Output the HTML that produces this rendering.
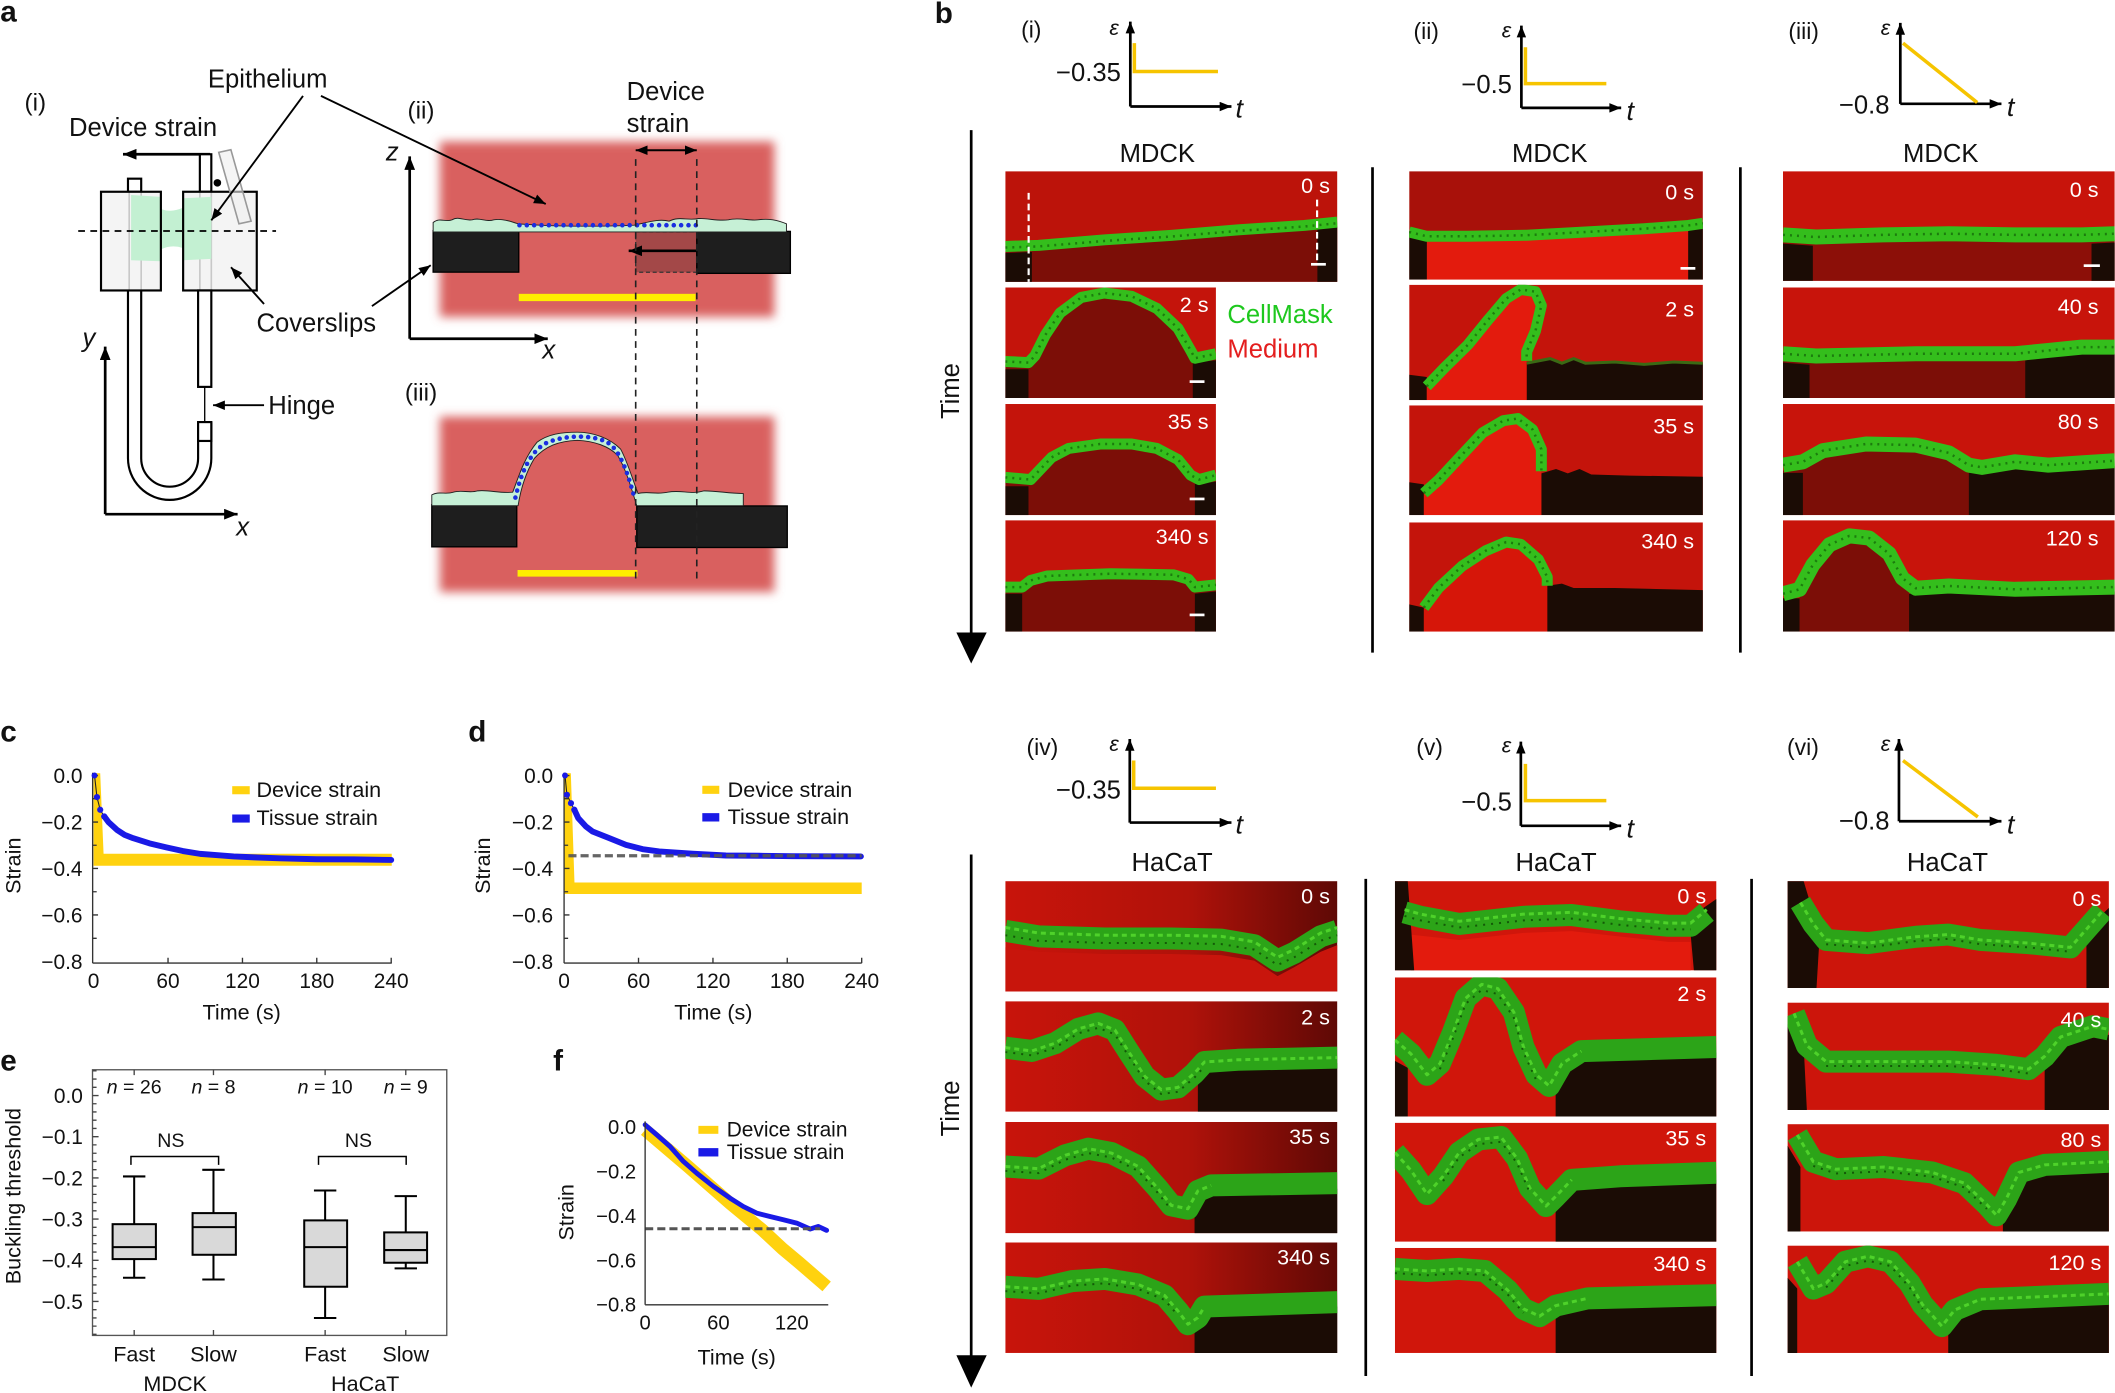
<!DOCTYPE html>
<html><head><meta charset="utf-8">
<style>
html,body{margin:0;padding:0;background:#fff;}
svg{display:block}
text{font-family:"Liberation Sans",Arial,sans-serif;fill:#111}
.t{fill:none;stroke:#34be1c;stroke-width:11;stroke-linejoin:round;vector-effect:non-scaling-stroke}
.t2{fill:none;stroke:#1c7c0e;stroke-width:2.5;stroke-dasharray:2 5;stroke-linejoin:round;vector-effect:non-scaling-stroke}
.h{fill:none;stroke:#2ca418;stroke-width:22;stroke-linejoin:round;vector-effect:non-scaling-stroke}
.h2{fill:none;stroke:#4ed22a;stroke-width:3;stroke-dasharray:5 4;stroke-linejoin:round;vector-effect:non-scaling-stroke}
.h3{fill:none;stroke:#145a08;stroke-width:2;stroke-dasharray:2 6;stroke-linejoin:round;vector-effect:non-scaling-stroke}
.ts{fill:#fff;font-size:16px;text-anchor:end}
.k{fill:#1b0c05}
.rd{fill:#7c0e07}
.rb{fill:#e31b0d}
.ax{stroke:#000;stroke-width:2;fill:none}
.yl{fill:none;stroke:#f6c400;stroke-width:2.6}
</style></head><body>
<svg width="2115" height="1393" viewBox="0 0 1568 1033" xmlns="http://www.w3.org/2000/svg">
<defs>
<marker id="ah" viewBox="0 0 10 8" refX="10" refY="4" markerWidth="10" markerHeight="8" markerUnits="userSpaceOnUse" orient="auto-start-reverse"><path d="M0,0 L10,4 L0,8 z" fill="#000"/></marker>
<marker id="ah2" viewBox="0 0 10 8" refX="10" refY="4" markerWidth="9" markerHeight="7" markerUnits="userSpaceOnUse" orient="auto-start-reverse"><path d="M0,0 L10,4 L0,8 z" fill="#000"/></marker>
<filter id="bl" x="-10%" y="-10%" width="120%" height="120%"><feGaussianBlur stdDeviation="3.5"/></filter>
<linearGradient id="dg" x1="0" y1="0" x2="1" y2="0"><stop offset="0" stop-color="#c8140b"/><stop offset="0.55" stop-color="#b0120a"/><stop offset="1" stop-color="#5e0905"/></linearGradient>
</defs>

<!-- ================= PANEL A ================= -->
<text x="0" y="16" font-size="22" font-weight="bold">a</text>
<text x="18" y="82" font-size="18">(i)</text>
<text x="154" y="65" font-size="19">Epithelium</text>
<text x="51" y="101" font-size="19">Device strain</text>
<line x1="155.6" y1="114.4" x2="91" y2="114.4" stroke="#000" stroke-width="2" marker-end="url(#ah)"/>
<rect x="94.7" y="132.5" width="9.8" height="9.7" fill="#fff" stroke="#000" stroke-width="1.6"/>
<rect x="148" y="114.4" width="8.5" height="27.8" fill="#fff" stroke="#000" stroke-width="1.6"/>
<rect x="74.7" y="142.2" width="44.4" height="73.2" fill="#f4f4f4"/>
<rect x="135.6" y="142.2" width="54.6" height="73.2" fill="#f4f4f4"/>
<g stroke="#c8c8c8" stroke-width="1.2"><line x1="95.6" y1="142" x2="95.6" y2="215"/><line x1="104.5" y1="142" x2="104.5" y2="215"/><line x1="148" y1="142" x2="148" y2="215"/><line x1="156.5" y1="142" x2="156.5" y2="215"/></g>
<path d="M97,144.6 L119,146 L119,155 Q127,158 135.6,154 L135.6,147 L156.5,146 L156.5,192 L135.6,193 L135.6,184 Q127,181 119,185 L119,193.7 L97,193 Z" fill="#c3f0d2"/>
<rect x="74.7" y="142.2" width="44.4" height="73.2" fill="none" stroke="#000" stroke-width="1.6"/>
<rect x="135.6" y="142.2" width="54.6" height="73.2" fill="none" stroke="#000" stroke-width="1.6"/>
<polygon points="162,113 171,111 186,164 177,166" fill="#eee" fill-opacity="0.6" stroke="#999" stroke-width="1.2"/>
<circle cx="161" cy="135.6" r="2.8" fill="#000"/>
<line x1="57.8" y1="171.3" x2="204.5" y2="171.3" stroke="#000" stroke-width="1.3" stroke-dasharray="5 4"/>
<g fill="none" stroke="#000" stroke-width="1.6">
<path d="M94.7,215.4 L94.7,339.8 A30.9 30.9 0 0 0 156.5,339.8 L156.5,313"/>
<path d="M104.5,215.4 L104.5,339.8 A21.1 21.1 0 0 0 146.7,339.8 L146.7,313"/>
<rect x="146.7" y="215.4" width="9.8" height="71.5" fill="#fff"/>
<rect x="146.7" y="313" width="9.8" height="14" fill="#fff"/>
<line x1="151.6" y1="286.9" x2="151.6" y2="313" stroke-width="1"/>
</g>
<line x1="195.6" y1="300.5" x2="157.8" y2="300.5" stroke="#000" stroke-width="1.4" marker-end="url(#ah2)"/>
<text x="198.7" y="307" font-size="19">Hinge</text>
<text x="190" y="246" font-size="19">Coverslips</text>
<line x1="77.8" y1="381.3" x2="77.8" y2="257" stroke="#000" stroke-width="2" marker-end="url(#ah)"/>
<line x1="77.8" y1="381.3" x2="176" y2="381.3" stroke="#000" stroke-width="2" marker-end="url(#ah)"/>
<text x="61" y="257" font-size="19" font-style="italic">y</text>
<text x="175" y="397" font-size="19" font-style="italic">x</text>

<!-- (ii) -->
<text x="302" y="88" font-size="18">(ii)</text>
<rect x="326" y="105" width="248" height="130" fill="#d9605f" filter="url(#bl)"/>
<line x1="303.6" y1="251.2" x2="303.6" y2="116" stroke="#000" stroke-width="2" marker-end="url(#ah)"/>
<line x1="303.6" y1="251.2" x2="406" y2="251.2" stroke="#000" stroke-width="2" marker-end="url(#ah)"/>
<text x="286" y="119" font-size="19" font-style="italic">z</text>
<text x="402" y="266" font-size="19" font-style="italic">x</text>
<rect x="471.2" y="171.9" width="45.3" height="30" fill="#a34848" stroke="#333" stroke-width="1" stroke-dasharray="3 2"/>
<rect x="321" y="171" width="63.5" height="30.8" fill="#1e1e1e" stroke="#000"/>
<rect x="516.5" y="171.6" width="69.4" height="31.1" fill="#1e1e1e" stroke="#000"/>
<path d="M321,172 L321,165 C326,161 330,165 335,163 C340,160 344,164 350,163 C356,161 360,165 366,163 C372,162 378,164 384,166 L400,167 C420,168 450,168 470,167 C480,165 488,162 496,164 C504,160 510,164 518,162 C526,162 532,164 540,163 C548,161 556,164 562,163 C570,162 576,163 583,166 L583,172 Z" fill="#c6f0d6" stroke="#222" stroke-width="0.7"/>
<line x1="385" y1="167" x2="517" y2="167" stroke="#1a2ee0" stroke-width="3.4" stroke-linecap="round" stroke-dasharray="0 5.45"/>
<line x1="516" y1="186" x2="466" y2="186" stroke="#000" stroke-width="2" marker-end="url(#ah)"/>
<rect x="384.5" y="217.9" width="131.1" height="5.4" fill="#ffee00"/>
<line x1="471.2" y1="111.4" x2="516.5" y2="111.4" stroke="#000" stroke-width="1.5" marker-start="url(#ah2)" marker-end="url(#ah2)"/>
<text x="464.5" y="74" font-size="19">Device</text>
<text x="464.5" y="98" font-size="19">strain</text>

<!-- (iii) -->
<text x="300" y="297" font-size="18">(iii)</text>
<rect x="326" y="309" width="248" height="130" fill="#d9605f" filter="url(#bl)"/>
<rect x="320" y="374.3" width="63" height="31.2" fill="#1e1e1e" stroke="#000"/>
<rect x="472" y="375.2" width="111.6" height="30.8" fill="#1e1e1e" stroke="#000"/>
<path d="M320,375 L320,367 C325,364 330,367 336,365 C342,363 348,366 354,364 C362,363 370,366 380,365 C384,355 388,340 398,328 C406,322 416,320.5 428,320.5 C440,320.5 452,325 460,333 C465,342 469,356 473,366 C480,364 486,367 495,365 C505,363 512,367 522,364 C532,364 540,366 551,366 L551,375 L472,375 C468,362 464,348 458,338 C452,331 440,327 428,326.5 C414,327 404,331 396,340 C390,350 386,362 384,375 Z" fill="#c6f0d6" stroke="#222" stroke-width="0.7"/>
<path d="M382,369 C386,352 392,336 404,329 C416,323 436,322 448,327 C458,331 464,346 470,368" fill="none" stroke="#1a2ee0" stroke-width="3.4" stroke-linecap="round" stroke-dasharray="0 5.3"/>
<rect x="383.6" y="422.7" width="88.9" height="4.9" fill="#ffee00"/>
<g stroke="#222" stroke-width="1.2" stroke-dasharray="5 4"><line x1="471.2" y1="118" x2="471.2" y2="430"/><line x1="516.5" y1="118" x2="516.5" y2="430"/></g>

<!-- arrows on top -->
<line x1="195.6" y1="225.4" x2="171.1" y2="198.2" stroke="#000" stroke-width="1.4" marker-end="url(#ah2)"/>
<line x1="275.6" y1="227" x2="319.2" y2="196.7" stroke="#000" stroke-width="1.4" marker-end="url(#ah2)"/>
<line x1="224.5" y1="71.1" x2="156.5" y2="163.4" stroke="#000" stroke-width="1.4" marker-end="url(#ah2)"/>
<line x1="237.8" y1="71.1" x2="404.5" y2="151.3" stroke="#000" stroke-width="1.4" marker-end="url(#ah2)"/>

<!-- ================= PANEL B ================= -->
<text x="693" y="17" font-size="22" font-weight="bold">b</text>

<text x="757" y="28" font-size="17">(i)</text>
<line class="ax" x1="838" y1="79" x2="838" y2="16" marker-end="url(#ah2)"/>
<line class="ax" x1="838" y1="79" x2="913" y2="79" marker-end="url(#ah2)"/>
<polyline class="yl" points="841,32 841,53 903,53"/>
<text x="831" y="60" font-size="19" text-anchor="end">−0.35</text>
<text x="826" y="26" font-size="16" font-family="Liberation Serif" font-style="italic" text-anchor="middle">ε</text>
<text x="916" y="87" font-size="20" font-family="Liberation Serif" font-style="italic">t</text>

<text x="1048" y="29" font-size="17">(ii)</text>
<line class="ax" x1="1128" y1="80" x2="1128" y2="19" marker-end="url(#ah2)"/>
<line class="ax" x1="1128" y1="80" x2="1202" y2="80" marker-end="url(#ah2)"/>
<polyline class="yl" points="1131,35 1131,62 1191,62"/>
<text x="1121" y="69" font-size="19" text-anchor="end">−0.5</text>
<text x="1117" y="28" font-size="16" font-family="Liberation Serif" font-style="italic" text-anchor="middle">ε</text>
<text x="1206" y="89" font-size="20" font-family="Liberation Serif" font-style="italic">t</text>

<text x="1326" y="29" font-size="17">(iii)</text>
<line class="ax" x1="1409" y1="77" x2="1409" y2="17" marker-end="url(#ah2)"/>
<line class="ax" x1="1409" y1="77" x2="1484" y2="77" marker-end="url(#ah2)"/>
<line class="yl" x1="1411" y1="32" x2="1466" y2="76"/>
<text x="1401" y="84" font-size="19" text-anchor="end">−0.8</text>
<text x="1398" y="26" font-size="16" font-family="Liberation Serif" font-style="italic" text-anchor="middle">ε</text>
<text x="1488" y="86" font-size="20" font-family="Liberation Serif" font-style="italic">t</text>

<line x1="720" y1="96.5" x2="720" y2="472" stroke="#000" stroke-width="2"/>
<polygon points="709,469 731.5,469 720,492" fill="#000"/>
<text transform="translate(711,290) rotate(-90)" font-size="19" text-anchor="middle">Time</text>
<line x1="1017.6" y1="124" x2="1017.6" y2="484" stroke="#000" stroke-width="2"/>
<line x1="1290.4" y1="124" x2="1290.4" y2="484" stroke="#000" stroke-width="2"/>
<text x="858" y="120" font-size="19" text-anchor="middle">MDCK</text>
<text x="1149" y="120" font-size="19" text-anchor="middle">MDCK</text>
<text x="1439" y="120" font-size="19" text-anchor="middle">MDCK</text>
<text x="910" y="239.5" font-size="19" style="fill:#1ec81e">CellMask</text>
<text x="910" y="265" font-size="19" style="fill:#e41e1e">Medium</text>

<!-- A column -->
<svg x="745.3" y="127" width="246.2" height="82" viewBox="0 0 100 100" preserveAspectRatio="none">
<rect width="100" height="100" fill="#bc130a"/>
<path class="rd" d="M0,72 L10,70 30,66 50,62 70,57 90,52 100,50 L100,100 L0,100Z"/>
<path class="k" d="M0,74 L8,73 L8,100 L0,100Z M94,52 L100,50 L100,100 L94,100Z"/>
<path class="t" d="M0,68 L10,67 30,62 50,58 70,53 90,49 100,46"/>
<path class="t2" d="M0,69 L10,68 30,63 50,59 70,54 90,50 100,47"/>
</svg>
<svg x="745.3" y="213.2" width="156.2" height="81.9" viewBox="0 0 100 100" preserveAspectRatio="none">
<rect width="100" height="100" fill="#c4140b"/>
<path class="rd" d="M0,70 L12,70 L14,64 L19,45 L26,25 L36,11 L47,7 L60,10 L72,21 L82,39 L88,59 L90,66 L100,63 L100,100 L0,100Z"/>
<path class="k" d="M0,74 L11,74 L11,100 L0,100Z M89,68 L100,66 L100,100 L89,100Z"/>
<path class="t" d="M0,67 L11,68 L14,62 L19,43 L26,23 L36,9 L47,5 L60,8 L72,19 L82,37 L88,57 L90,64 L100,60"/>
<path class="t2" d="M0,67 L11,68 L14,62 L19,43 L26,23 L36,9 L47,5 L60,8 L72,19 L82,37 L88,57 L90,64 L100,60"/>
</svg>
<svg x="745.3" y="299.6" width="156.2" height="82.4" viewBox="0 0 100 100" preserveAspectRatio="none">
<rect width="100" height="100" fill="#c4140b"/>
<path class="rd" d="M0,70 L12,71 L16,64 L22,52 L30,44 L45,40 L60,40 L72,44 L82,54 L88,67 L92,71 L100,68 L100,100 L0,100Z"/>
<path class="k" d="M0,74 L11,74 L11,100 L0,100Z M90,72 L100,70 L100,100 L90,100Z"/>
<path class="t" d="M0,66 L12,68 L16,60 L22,48 L30,40 L45,36 L60,36 L72,40 L82,50 L88,64 L92,68 L100,64"/>
<path class="t2" d="M0,66 L12,68 L16,60 L22,48 L30,40 L45,36 L60,36 L72,40 L82,50 L88,64 L92,68 L100,64"/>
</svg>
<svg x="745.3" y="385.8" width="156.2" height="82.6" viewBox="0 0 100 100" preserveAspectRatio="none">
<rect width="100" height="100" fill="#c4140b"/>
<path class="rd" d="M0,64 L8,64 L12,58 L20,54 L50,52 L80,53 L87,57 L90,64 L100,62 L100,100 L0,100Z"/>
<path class="k" d="M0,66 L8,66 L8,100 L0,100Z M90,66 L100,64 L100,100 L90,100Z"/>
<path class="t" d="M0,60 L8,60 L12,54 L20,50 L50,48 L80,49 L87,53 L90,60 L100,58"/>
<path class="t2" d="M0,60 L8,60 L12,54 L20,50 L50,48 L80,49 L87,53 L90,60 L100,58"/>
</svg>
<!-- B column -->
<svg x="1044.8" y="127" width="217.8" height="80.4" viewBox="0 0 100 100" preserveAspectRatio="none">
<rect width="100" height="100" fill="#a8110a"/>
<path class="rb" d="M6,64 L20,64 L40,63 L60,60 L80,57 L95,54 L95,100 L6,100Z"/>
<path class="k" d="M0,55 L6,58 L6,100 L0,100Z M95,50 L100,48 L100,100 L95,100Z"/>
<path class="t" d="M0,56 L6,60 L20,60 L40,59 L60,56 L80,53 L95,50 L100,48"/>
<path class="t2" d="M0,56 L6,60 L20,60 L40,59 L60,56 L80,53 L95,50 L100,48"/>
</svg>
<svg x="1044.8" y="211.2" width="217.8" height="85.5" viewBox="0 0 100 100" preserveAspectRatio="none">
<rect width="100" height="100" fill="#c4140b"/>
<path class="k" d="M40,68 L48,64 L52,68 L56,64 L60,68 L70,67 L80,69 L90,67 L100,68 L100,100 L40,100Z M0,78 L6,80 L6,100 L0,100Z"/>
<path class="rb" d="M6,100 L6,88 L12,72 L20,52 L27,30 L33,12 L38,4 L43,6 L45,18 L43,40 L40,58 L40,100Z"/>
<path d="M40,68 L48,64 L52,68 L56,64 L60,68 L70,67 L80,69 L90,67 L100,68" fill="none" stroke="#3a6a14" stroke-width="3" style="vector-effect:non-scaling-stroke"/>
<path class="t" d="M6,88 L12,72 L20,52 L27,30 L33,12 L38,4 L43,6 L45,18 L43,40 L40,58 L40,66"/>
<path class="t2" d="M6,88 L12,72 L20,52 L27,30 L33,12 L38,4 L43,6 L45,18 L43,40 L40,58 L40,66"/>
</svg>
<svg x="1044.8" y="300.6" width="217.8" height="81.4" viewBox="0 0 100 100" preserveAspectRatio="none">
<rect width="100" height="100" fill="#c4140b"/>
<path class="k" d="M45,62 L50,58 L54,62 L58,58 L62,63 L75,64 L100,65 L100,100 L45,100Z M0,70 L5,72 L5,100 L0,100Z"/>
<path class="rb" d="M5,100 L5,80 L10,68 L18,45 L25,25 L32,14 L37,12 L42,22 L45,40 L45,100Z"/>
<path class="t" d="M5,80 L10,68 L18,45 L25,25 L32,14 L37,12 L42,22 L45,40 L45,60"/>
<path class="t2" d="M5,80 L10,68 L18,45 L25,25 L32,14 L37,12 L42,22 L45,40 L45,60"/>
</svg>
<svg x="1044.8" y="387.4" width="217.8" height="81" viewBox="0 0 100 100" preserveAspectRatio="none">
<rect width="100" height="100" fill="#c4140b"/>
<path class="k" d="M47,58 L52,56 L56,60 L70,60 L100,62 L100,100 L47,100Z M0,75 L5,78 L5,100 L0,100Z"/>
<path d="M5,100 L5,78 L10,60 L18,40 L26,26 L33,18 L38,20 L44,34 L47,50 L47,100Z" fill="#d61609"/>
<path class="t" d="M5,78 L10,60 L18,40 L26,26 L33,18 L38,20 L44,34 L47,50 L47,58"/>
<path class="t2" d="M5,78 L10,60 L18,40 L26,26 L33,18 L38,20 L44,34 L47,50 L47,58"/>
</svg>
<!-- C column -->
<svg x="1322" y="127" width="246" height="81.3" viewBox="0 0 100 100" preserveAspectRatio="none">
<rect width="100" height="100" fill="#c8140b"/>
<path d="M0,64 L10,66 L30,64 L50,63 L70,64 L90,64 L100,63 L100,100 L0,100Z" fill="#8c0f08"/>
<path class="k" d="M0,66 L9,68 L9,100 L0,100Z M93,66 L100,65 L100,100 L93,100Z"/>
<path class="t" style="stroke-width:15px" d="M0,58 L10,60 L30,58 L50,57 L70,58 L90,58 L100,57"/>
<path class="t2" d="M0,58 L10,60 L30,58 L50,57 L70,58 L90,58 L100,57"/>
</svg>
<svg x="1322" y="213.2" width="246" height="81.9" viewBox="0 0 100 100" preserveAspectRatio="none">
<rect width="100" height="100" fill="#c8140b"/>
<path class="rd" d="M0,66 L10,68 L40,66 L73,66 L73,100 L0,100Z"/>
<path class="k" d="M0,68 L8,70 L8,100 L0,100Z M73,66 L80,62 L90,60 L100,60 L100,100 L73,100Z"/>
<path class="t" style="stroke-width:15px" d="M0,60 L10,62 L40,60 L70,60 L80,57 L90,54 L100,54"/>
<path class="t2" d="M0,60 L10,62 L40,60 L70,60 L80,57 L90,54 L100,54"/>
</svg>
<svg x="1322" y="299.6" width="246" height="82.4" viewBox="0 0 100 100" preserveAspectRatio="none">
<rect width="100" height="100" fill="#c8140b"/>
<path class="rd" d="M0,60 L6,58 L12,48 L25,42 L40,43 L50,50 L56,62 L56,100 L0,100Z"/>
<path class="k" d="M0,62 L6,62 L6,100 L0,100Z M56,62 L62,58 L70,56 L80,58 L90,57 L100,56 L100,100 L56,100Z"/>
<path class="t" style="stroke-width:15px" d="M0,55 L6,52 L12,42 L25,36 L40,37 L50,44 L56,55 L60,57 L70,52 L80,55 L90,53 L100,51"/>
<path class="t2" d="M0,55 L6,52 L12,42 L25,36 L40,37 L50,44 L56,55 L60,57 L70,52 L80,55 L90,53 L100,51"/>
</svg>
<svg x="1322" y="385.8" width="246" height="82.6" viewBox="0 0 100 100" preserveAspectRatio="none">
<rect width="100" height="100" fill="#c8140b"/>
<path class="rd" d="M5,100 L5,66 L9,44 L14,26 L20,18 L26,20 L32,34 L36,56 L38,64 L38,100Z"/>
<path class="k" d="M0,70 L5,70 L5,100 L0,100Z M38,66 L50,64 L70,66 L100,64 L100,100 L38,100Z"/>
<path class="t" style="stroke-width:15px" d="M0,66 L5,62 L9,40 L14,22 L20,14 L26,16 L32,30 L36,52 L40,61 L50,59 L70,62 L100,60"/>
<path class="t2" d="M0,66 L5,62 L9,40 L14,22 L20,14 L26,16 L32,30 L36,52 L40,61 L50,59 L70,62 L100,60"/>
</svg>

<text class="ts" x="986" y="143">0 s</text>
<text class="ts" x="896" y="231.5">2 s</text>
<text class="ts" x="896" y="318">35 s</text>
<text class="ts" x="896" y="403.5">340 s</text>
<text class="ts" x="1256" y="148">0 s</text>
<text class="ts" x="1256" y="234.7">2 s</text>
<text class="ts" x="1256" y="321.5">35 s</text>
<text class="ts" x="1256" y="406.7">340 s</text>
<text class="ts" x="1556" y="146">0 s</text>
<text class="ts" x="1556" y="233">40 s</text>
<text class="ts" x="1556" y="318">80 s</text>
<text class="ts" x="1556" y="404.5">120 s</text>
<g fill="#fff">
<rect x="972" y="195" width="11" height="2"/>
<rect x="882" y="282" width="11" height="2"/>
<rect x="882" y="369" width="11" height="2"/>
<rect x="882" y="455" width="11" height="2"/>
<rect x="1246" y="198" width="11" height="2"/>
<rect x="1545" y="196" width="12" height="2"/>
<rect x="972" y="724.5" width="11" height="2"/>
<rect x="1259" y="713.6" width="11" height="2"/>
<rect x="1551" y="723.5" width="11" height="2"/>
</g>
<g stroke="#fff" stroke-width="1.6" stroke-dasharray="5 3"><line x1="762.6" y1="143" x2="762.6" y2="209"/><line x1="976.5" y1="148" x2="976.5" y2="193"/></g>

<text x="761" y="560" font-size="17">(iv)</text>
<line class="ax" x1="837.6" y1="610" x2="837.6" y2="548" marker-end="url(#ah2)"/>
<line class="ax" x1="837.6" y1="610" x2="913" y2="610" marker-end="url(#ah2)"/>
<polyline class="yl" points="840.5,564 840.5,584.5 901.5,584.5"/>
<text x="831" y="592" font-size="19" text-anchor="end">−0.35</text>
<text x="826" y="557" font-size="16" font-family="Liberation Serif" font-style="italic" text-anchor="middle">ε</text>
<text x="916" y="618" font-size="20" font-family="Liberation Serif" font-style="italic">t</text>

<text x="1050" y="560" font-size="17">(v)</text>
<line class="ax" x1="1127.6" y1="612.4" x2="1127.6" y2="550" marker-end="url(#ah2)"/>
<line class="ax" x1="1127.6" y1="612.4" x2="1202" y2="612.4" marker-end="url(#ah2)"/>
<polyline class="yl" points="1131,566.5 1131,593.7 1191,593.7"/>
<text x="1121" y="601" font-size="19" text-anchor="end">−0.5</text>
<text x="1117" y="558" font-size="16" font-family="Liberation Serif" font-style="italic" text-anchor="middle">ε</text>
<text x="1206" y="621" font-size="20" font-family="Liberation Serif" font-style="italic">t</text>

<text x="1325" y="560" font-size="17">(vi)</text>
<line class="ax" x1="1408" y1="609" x2="1408" y2="548" marker-end="url(#ah2)"/>
<line class="ax" x1="1408" y1="609" x2="1484" y2="609" marker-end="url(#ah2)"/>
<line class="yl" x1="1411" y1="564" x2="1466.5" y2="605.8"/>
<text x="1401" y="615" font-size="19" text-anchor="end">−0.8</text>
<text x="1398" y="557" font-size="16" font-family="Liberation Serif" font-style="italic" text-anchor="middle">ε</text>
<text x="1488" y="618" font-size="20" font-family="Liberation Serif" font-style="italic">t</text>

<line x1="720" y1="633.7" x2="720" y2="1008" stroke="#000" stroke-width="2"/>
<polygon points="709,1005 731.5,1005 720,1029" fill="#000"/>
<text transform="translate(711,822) rotate(-90)" font-size="19" text-anchor="middle">Time</text>
<line x1="1012.6" y1="651.7" x2="1012.6" y2="1020.4" stroke="#000" stroke-width="2"/>
<line x1="1298.7" y1="651.7" x2="1298.7" y2="1020.4" stroke="#000" stroke-width="2"/>
<text x="869" y="646" font-size="19" text-anchor="middle">HaCaT</text>
<text x="1153.7" y="646" font-size="19" text-anchor="middle">HaCaT</text>
<text x="1444" y="646" font-size="19" text-anchor="middle">HaCaT</text>

<!-- D column -->
<svg x="745.3" y="653.4" width="246.2" height="81.9" viewBox="0 0 100 100" preserveAspectRatio="none">
<rect width="100" height="100" fill="url(#dg)"/>
<path d="M0,60 L10,64 L30,66 L50,66 L65,67 L75,72 L82,86 L87,78 L95,64 L100,58 L100,100 L0,100Z" fill="#c8150c"/>
<path class="h" d="M0,45 L10,50 L30,52 L50,52 L65,53 L75,58 L82,72 L87,65 L95,50 L100,45"/>
<path class="h2" d="M0,42 L10,47 L30,49 L50,49 L65,50 L75,55 L82,69 L87,62 L95,47 L100,42"/>
<path class="h3" d="M0,49 L10,54 L30,56 L50,56 L65,57 L75,62 L82,76 L87,69 L95,54 L100,49"/>
</svg>
<svg x="745.3" y="742.5" width="246.2" height="81.9" viewBox="0 0 100 100" preserveAspectRatio="none">
<rect width="100" height="100" fill="url(#dg)"/>
<path class="k" d="M58,60 L70,58 L100,56 L100,100 L58,100Z"/>
<path class="h" d="M0,42 L8,45 L15,38 L22,25 L28,20 L33,26 L37,45 L42,68 L47,80 L52,78 L57,65 L60,55 L70,53 L100,51"/>
<path class="h2" d="M0,42 L8,45 L15,38 L22,25 L28,20 L33,26 L37,45 L42,68 L47,80 L52,78 L57,65 L60,55 L70,53 L100,51"/>
<path class="h3" d="M0,46 L8,49 L15,42 L22,29 L28,24 L33,30 L37,49 L42,72 L47,84 L52,82 L57,69 L60,59"/>
</svg>
<svg x="745.3" y="832" width="246.2" height="82.5" viewBox="0 0 100 100" preserveAspectRatio="none">
<rect width="100" height="100" fill="url(#dg)"/>
<path class="k" d="M57,62 L70,60 L100,60 L100,100 L57,100Z"/>
<path class="h" d="M0,40 L10,42 L18,30 L25,24 L32,28 L40,40 L46,60 L50,75 L55,78 L58,62 L62,57 L100,55"/>
<path class="h2" d="M0,40 L10,42 L18,30 L25,24 L32,28 L40,40 L46,60 L50,75 L55,78 L58,62 L62,57"/>
<path class="h3" d="M0,44 L10,46 L18,34 L25,28 L32,32 L40,44 L46,64 L50,79"/>
</svg>
<svg x="745.3" y="921.4" width="246.2" height="81.9" viewBox="0 0 100 100" preserveAspectRatio="none">
<rect width="100" height="100" fill="url(#dg)"/>
<path class="k" d="M57,60 L100,58 L100,100 L57,100Z"/>
<path class="h" d="M0,40 L10,42 L20,35 L30,33 L40,38 L48,48 L52,62 L55,74 L58,68 L60,58 L100,54"/>
<path class="h2" d="M0,40 L10,42 L20,35 L30,33 L40,38 L48,48 L52,62 L55,74 L58,68 L60,58"/>
<path class="h3" d="M0,44 L10,46 L20,39 L30,37 L40,42 L48,52 L52,66"/>
</svg>
<!-- E column -->
<svg x="1034.2" y="653.4" width="238.4" height="66.2" viewBox="0 0 100 100" preserveAspectRatio="none">
<rect width="100" height="100" fill="#d0160b"/>
<path class="rb" d="M5,60 L20,66 L40,58 L55,56 L70,62 L85,68 L92,68 L92,100 L5,100Z"/>
<path class="k" d="M0,0 L4,0 L6,100 L0,100Z M93,100 L92,60 L96,30 L100,20 L100,100Z"/>
<path class="h" d="M3,35 L8,40 L20,48 L40,40 L55,38 L70,45 L85,50 L92,50 L97,35"/>
<path class="h2" d="M3,32 L8,37 L20,45 L40,37 L55,35 L70,42 L85,47 L92,47 L97,32"/>
<path class="h3" d="M3,39 L8,44 L20,52 L40,44 L55,42 L70,49 L85,54 L92,54"/>
</svg>
<svg x="1034.2" y="724.8" width="238.4" height="103.2" viewBox="0 0 100 100" preserveAspectRatio="none">
<rect width="100" height="100" fill="#d0160b"/>
<path class="k" d="M50,62 L58,56 L100,54 L100,100 L50,100Z M0,60 L4,65 L4,100 L0,100Z"/>
<path class="h" d="M0,45 L5,55 L10,70 L14,62 L18,40 L22,15 L27,5 L32,8 L37,25 L40,50 L44,70 L48,78 L52,62 L58,53 L100,50"/>
<path class="h2" d="M0,45 L5,55 L10,70 L14,62 L18,40 L22,15 L27,5 L32,8 L37,25 L40,50 L44,70 L48,78 L52,62 L58,53"/>
<path class="h3" d="M14,66 L18,44 L22,19 L27,9 L32,12 L37,29 L40,54 L44,74"/>
</svg>
<svg x="1034.2" y="832.6" width="238.4" height="88.2" viewBox="0 0 100 100" preserveAspectRatio="none">
<rect width="100" height="100" fill="#d0160b"/>
<path class="k" d="M50,66 L56,52 L100,48 L100,100 L50,100Z"/>
<path class="h" d="M0,25 L5,40 L10,60 L15,45 L20,25 L26,14 L33,12 L38,30 L42,55 L47,70 L50,62 L55,48 L70,45 L100,42"/>
<path class="h2" d="M0,25 L5,40 L10,60 L15,45 L20,25 L26,14 L33,12 L38,30 L42,55 L47,70 L50,62 L55,48"/>
<path class="h3" d="M15,49 L20,29 L26,18 L33,16 L38,34 L42,59"/>
</svg>
<svg x="1034.2" y="925.4" width="238.4" height="77.9" viewBox="0 0 100 100" preserveAspectRatio="none">
<rect width="100" height="100" fill="#d0160b"/>
<path class="k" d="M50,62 L60,52 L100,50 L100,100 L50,100Z"/>
<path class="h" d="M0,20 L10,22 L20,20 L28,22 L35,40 L40,58 L45,65 L50,55 L60,48 L100,45"/>
<path class="h2" d="M0,20 L10,22 L20,20 L28,22 L35,40 L40,58 L45,65 L50,55 L60,48"/>
<path class="h3" d="M0,24 L10,26 L20,24 L28,26 L35,44 L40,62"/>
</svg>
<!-- F column -->
<svg x="1325.4" y="653.4" width="238.3" height="79.3" viewBox="0 0 100 100" preserveAspectRatio="none">
<rect width="100" height="100" fill="#cc150b"/>
<path class="k" d="M0,0 L5,0 L10,50 L9,100 L0,100Z M93,45 L100,25 L100,100 L93,100Z"/>
<path class="h" d="M4,20 L8,40 L12,55 L25,58 L40,52 L50,50 L60,55 L75,58 L88,62 L93,45 L98,28"/>
<path class="h2" d="M4,20 L8,40 L12,55 L25,58 L40,52 L50,50 L60,55 L75,58 L88,62 L93,45 L98,28"/>
<path class="h3" d="M12,59 L25,62 L40,56 L50,54 L60,59 L75,62 L88,66"/>
</svg>
<svg x="1325.4" y="743.5" width="238.3" height="79.6" viewBox="0 0 100 100" preserveAspectRatio="none">
<rect width="100" height="100" fill="#cc150b"/>
<path class="k" d="M0,20 L5,40 L6,100 L0,100Z M80,62 L86,38 L100,30 L100,100 L80,100Z"/>
<path class="h" d="M2,10 L6,40 L12,55 L30,55 L50,55 L65,58 L75,62 L80,50 L85,32 L95,22 L100,25"/>
<path class="h2" d="M2,10 L6,40 L12,55 L30,55 L50,55 L65,58 L75,62 L80,50 L85,32 L95,22 L100,25"/>
<path class="h3" d="M12,59 L30,59 L50,59 L65,62 L75,66"/>
</svg>
<svg x="1325.4" y="833.6" width="238.3" height="79.6" viewBox="0 0 100 100" preserveAspectRatio="none">
<rect width="100" height="100" fill="#cc150b"/>
<path class="k" d="M0,20 L4,40 L4,100 L0,100Z M67,75 L74,46 L100,40 L100,100 L67,100Z"/>
<path class="h" d="M3,10 L8,35 L15,42 L30,40 L45,45 L55,55 L62,75 L65,85 L68,70 L72,45 L80,38 L100,35"/>
<path class="h2" d="M3,10 L8,35 L15,42 L30,40 L45,45 L55,55 L62,75 L65,85 L68,70 L72,45 L80,38 L100,35"/>
<path class="h3" d="M8,39 L15,46 L30,44 L45,49 L55,59 L62,79"/>
</svg>
<svg x="1325.4" y="923.7" width="238.3" height="79.6" viewBox="0 0 100 100" preserveAspectRatio="none">
<rect width="100" height="100" fill="#cc150b"/>
<path class="k" d="M50,65 L58,52 L100,48 L100,100 L50,100Z M0,30 L3,40 L3,100 L0,100Z"/>
<path class="h" d="M3,15 L8,40 L12,35 L18,15 L25,10 L32,15 L38,35 L42,55 L48,75 L52,60 L60,50 L100,45"/>
<path class="h2" d="M3,15 L8,40 L12,35 L18,15 L25,10 L32,15 L38,35 L42,55 L48,75 L52,60 L60,50 L100,45"/>
<path class="h3" d="M12,39 L18,19 L25,14 L32,19 L38,39 L42,59"/>
</svg>

<text class="ts" x="986" y="670">0 s</text>
<text class="ts" x="986" y="759.8">2 s</text>
<text class="ts" x="986" y="848.3">35 s</text>
<text class="ts" x="986" y="937.8">340 s</text>
<text class="ts" x="1265" y="670">0 s</text>
<text class="ts" x="1265" y="742.5">2 s</text>
<text class="ts" x="1265" y="849.3">35 s</text>
<text class="ts" x="1265" y="942.4">340 s</text>
<text class="ts" x="1558" y="672">0 s</text>
<text class="ts" x="1558" y="761.5">40 s</text>
<text class="ts" x="1558" y="850.6">80 s</text>
<text class="ts" x="1558" y="941.7">120 s</text>

<!-- ================= PANEL C ================= -->
<text x="0" y="550" font-size="22" font-weight="bold">c</text>
<polygon points="69.2,573.4 74.1,573.4 76.6,633.1 290.3,633.1 290.3,642 69.2,642" fill="#ffd20f"/>
<g stroke="#333" stroke-width="1" fill="none">
<line x1="68.5" y1="573" x2="68.5" y2="714.2"/>
<line x1="68.5" y1="714.2" x2="290.3" y2="714.2"/>
<path d="M68.5,575.1h4 M68.5,592.3h3 M68.5,609.6h4 M68.5,626.8h3 M68.5,644h4 M68.5,661.3h3 M68.5,678.5h4 M68.5,695.8h3 M124.4,714.2v-4 M179.6,714.2v-4 M234.7,714.2v-4 M289.9,714.2v-4"/>
</g>
<g font-size="15.5" text-anchor="end">
<text x="61" y="580.6">0.0</text><text x="61" y="615.1">−0.2</text><text x="61" y="649.5">−0.4</text><text x="61" y="684">−0.6</text><text x="61" y="718.5">−0.8</text>
</g>
<g font-size="15.5" text-anchor="middle">
<text x="69.2" y="732.7">0</text><text x="124.4" y="732.7">60</text><text x="179.6" y="732.7">120</text><text x="234.7" y="732.7">180</text><text x="289.9" y="732.7">240</text>
</g>
<text x="179" y="756" font-size="16" text-anchor="middle">Time (s)</text>
<text transform="translate(15,642) rotate(-90)" font-size="16" text-anchor="middle">Strain</text>
<polyline points="69.9,575.1 71.7,591.1 74.1,600.5 77.1,605.5" fill="none" stroke="#222" stroke-width="0.8"/>
<polyline points="77.1,605.4 80.2,609.6 86.5,615.4 92.2,619.1 98.6,621.6 110.6,625.4 123.5,628.5 135.4,631.1 148.3,633.2 161.2,634.2 173.1,635.1 188.7,635.8 207.1,636.5 234.7,637.2 262.3,637.3 289.9,637.7" fill="none" stroke="#1a1ae6" stroke-width="4.4" stroke-linecap="round" stroke-linejoin="round"/>
<g fill="#1a1ae6"><circle cx="69.9" cy="575.1" r="2.2"/><circle cx="71.7" cy="591.1" r="2.3"/><circle cx="74.1" cy="600.5" r="2.3"/><circle cx="77.1" cy="605.5" r="2.3"/></g>
<rect x="172" y="583" width="13" height="6" fill="#ffd20f"/>
<text x="190" y="591.2" font-size="16">Device strain</text>
<rect x="172" y="604" width="13" height="6" fill="#1a1ae6"/>
<text x="190" y="611.7" font-size="16">Tissue strain</text>

<!-- ================= PANEL D ================= -->
<text x="347" y="550" font-size="22" font-weight="bold">d</text>
<polygon points="418.1,573.4 423.1,573.4 425.8,654.4 638.8,654.4 638.8,663 418.1,663" fill="#ffd20f"/>
<g stroke="#333" stroke-width="1" fill="none">
<line x1="418.1" y1="573" x2="418.1" y2="714.2"/>
<line x1="418.1" y1="714.2" x2="638.8" y2="714.2"/>
<path d="M418.1,575.1h4 M418.1,592.3h3 M418.1,609.6h4 M418.1,626.8h3 M418.1,644h4 M418.1,661.3h3 M418.1,678.5h4 M418.1,695.8h3 M473.3,714.2v-4 M528.5,714.2v-4 M583.6,714.2v-4 M638.8,714.2v-4"/>
</g>
<g font-size="15.5" text-anchor="end">
<text x="410" y="580.6">0.0</text><text x="410" y="615.1">−0.2</text><text x="410" y="649.5">−0.4</text><text x="410" y="684">−0.6</text><text x="410" y="718.5">−0.8</text>
</g>
<g font-size="15.5" text-anchor="middle">
<text x="418.1" y="732.7">0</text><text x="473.3" y="732.7">60</text><text x="528.5" y="732.7">120</text><text x="583.6" y="732.7">180</text><text x="638.8" y="732.7">240</text>
</g>
<text x="528.8" y="756" font-size="16" text-anchor="middle">Time (s)</text>
<text transform="translate(363,642) rotate(-90)" font-size="16" text-anchor="middle">Strain</text>
<polyline points="418.8,575.1 420.2,589.4 423.2,595.6 425.7,600.5" fill="none" stroke="#222" stroke-width="0.8"/>
<polyline points="425.7,600.5 428.6,606.7 434.3,612.9 439.2,616.6 451.6,621.5 464,626.5 476.3,629.7 488.6,631.4 513.4,633.1 538.1,634.4 562.8,634.6 587.5,634.9 638.2,635.1" fill="none" stroke="#1a1ae6" stroke-width="4.4" stroke-linecap="round" stroke-linejoin="round"/>
<g fill="#1a1ae6"><circle cx="418.8" cy="575.1" r="2.2"/><circle cx="420.2" cy="589.4" r="2.3"/><circle cx="423.2" cy="595.6" r="2.3"/><circle cx="425.7" cy="600.5" r="2.3"/></g>
<line x1="421.3" y1="634.6" x2="638.8" y2="634.6" stroke="#555" stroke-width="2.4" stroke-dasharray="6 3" opacity="0.9"/>
<rect x="520.6" y="582.7" width="12.6" height="6" fill="#ffd20f"/>
<text x="539.4" y="591.1" font-size="16">Device strain</text>
<rect x="520.6" y="603" width="12.6" height="6.2" fill="#1a1ae6"/>
<text x="539.4" y="610.9" font-size="16">Tissue strain</text>

<!-- ================= PANEL E ================= -->
<text x="0" y="794" font-size="22" font-weight="bold">e</text>
<rect x="68.4" y="793.3" width="262.7" height="197" fill="none" stroke="#555" stroke-width="1"/>
<path d="M68.4,794.1h3 M68.4,800.2h3 M68.4,806.3h3 M68.4,812.4h4.5 M68.4,818.5h3 M68.4,824.6h3 M68.4,830.7h3 M68.4,836.8h3 M68.4,842.9h4.5 M68.4,849h3 M68.4,855.2h3 M68.4,861.3h3 M68.4,867.4h3 M68.4,873.5h4.5 M68.4,879.6h3 M68.4,885.7h3 M68.4,891.8h3 M68.4,897.9h3 M68.4,904h4.5 M68.4,910.1h3 M68.4,916.2h3 M68.4,922.3h3 M68.4,928.5h3 M68.4,934.6h4.5 M68.4,940.7h3 M68.4,946.8h3 M68.4,952.9h3 M68.4,959h3 M68.4,965.1h4.5 M68.4,971.2h3 M68.4,977.3h3 M68.4,983.4h3 M68.4,989.5h3 M99.3,793.3v4 M158.1,793.3v4 M240.9,793.3v4 M300.7,793.3v4 M99.3,990.3v-4 M158.1,990.3v-4 M240.9,990.3v-4 M300.7,990.3v-4" stroke="#444" stroke-width="1" fill="none"/>
<g font-size="15.5" text-anchor="end">
<text x="61.3" y="817.9">0.0</text><text x="61.3" y="848.4">−0.1</text><text x="61.3" y="879">−0.2</text><text x="61.3" y="909.5">−0.3</text><text x="61.3" y="940.1">−0.4</text><text x="61.3" y="970.6">−0.5</text>
</g>
<g font-size="14.5" text-anchor="middle">
<text x="99.3" y="811"><tspan font-style="italic">n</tspan> = 26</text>
<text x="158.1" y="811"><tspan font-style="italic">n</tspan> = 8</text>
<text x="240.9" y="811"><tspan font-style="italic">n</tspan> = 10</text>
<text x="300.7" y="811"><tspan font-style="italic">n</tspan> = 9</text>
<text x="126.5" y="850.7">NS</text>
<text x="265.6" y="850.7">NS</text>
</g>
<path d="M96.9,863.8 V857.6 H161.9 V863.8 M236,863.8 V857.6 H301 V863.8" fill="none" stroke="#000" stroke-width="1.1"/>
<g stroke="#000" stroke-width="1.5" fill="#d9d9d9">
<path d="M99.3,872.4 V907.8 M99.3,933.7 V947.5 M91,872.4 H107.6 M91,947.5 H107.6" fill="none"/>
<rect x="83.3" y="907.8" width="32.1" height="25.9"/><line x1="83.3" y1="924.8" x2="115.4" y2="924.8"/>
<path d="M158.1,867.5 V899.6 M158.1,930.5 V948.8 M149.8,867.5 H166.4 M149.8,948.8 H166.4" fill="none"/>
<rect x="142.6" y="899.6" width="32.1" height="30.9"/><line x1="142.6" y1="910" x2="174.7" y2="910"/>
<path d="M240.9,882.8 V905 M240.9,954.2 V977.4 M232.6,882.8 H249.2 M232.6,977.4 H249.2" fill="none"/>
<rect x="225.4" y="905" width="31.8" height="49.2"/><line x1="225.4" y1="924.8" x2="257.2" y2="924.8"/>
<path d="M300.7,887 V913.9 M300.7,936.4 V940.6 M292.4,887 H309 M292.4,940.6 H309" fill="none"/>
<rect x="284.7" y="913.9" width="31.8" height="22.5"/><line x1="284.7" y1="927" x2="316.5" y2="927"/>
</g>
<g font-size="16" text-anchor="middle">
<text x="99.3" y="1009.6">Fast</text><text x="158.1" y="1009.6">Slow</text><text x="240.9" y="1009.6">Fast</text><text x="300.7" y="1009.6">Slow</text>
<text x="129.7" y="1031.5">MDCK</text><text x="270.6" y="1031.5">HaCaT</text>
</g>
<text transform="translate(15,887) rotate(-90)" font-size="16" text-anchor="middle">Buckling threshold</text>

<!-- ================= PANEL F ================= -->
<text x="410" y="794" font-size="22" font-weight="bold">f</text>
<polyline points="478.2,838 510,865 541.2,892.3 565,912 580,926 592,936 612.8,954" fill="none" stroke="#ffd20f" stroke-width="9.5" stroke-linejoin="round"/>
<polyline points="478.2,834.1 486.8,841.5 496.7,850.2 506.6,861.3 516.5,870 528.8,879.8 541.2,888.5 551,894.7 560.9,899.6 570.8,902.1 580.7,904.5 590.6,907 600.5,911.4 606.6,909.5 612.8,912.4" fill="none" stroke="#1a1ae6" stroke-width="3.6" stroke-linejoin="round" stroke-linecap="round"/>
<line x1="478.2" y1="911.2" x2="607.9" y2="911.2" stroke="#555" stroke-width="2.2" stroke-dasharray="6 3"/>
<g stroke="#333" stroke-width="1"><line x1="478.2" y1="831.6" x2="478.2" y2="967.6"/><line x1="478.2" y1="967.6" x2="614" y2="967.6"/></g>
<g font-size="15" text-anchor="end">
<text x="471.5" y="841">0.0</text><text x="471.5" y="873.9">−0.2</text><text x="471.5" y="906.8">−0.4</text><text x="471.5" y="939.8">−0.6</text><text x="471.5" y="972.7">−0.8</text>
</g>
<g font-size="15" text-anchor="middle">
<text x="478.2" y="986.1">0</text><text x="532.5" y="986.1">60</text><text x="586.9" y="986.1">120</text>
</g>
<text x="546.1" y="1012" font-size="16" text-anchor="middle">Time (s)</text>
<text transform="translate(425,899) rotate(-90)" font-size="16" text-anchor="middle">Strain</text>
<rect x="517.7" y="834.9" width="14.8" height="5.9" fill="#ffd20f"/>
<text x="538.7" y="842.8" font-size="15.5">Device strain</text>
<rect x="517.7" y="851.4" width="14.8" height="6.2" fill="#1a1ae6"/>
<text x="538.7" y="859.3" font-size="15.5">Tissue strain</text>
</svg>
</body></html>
